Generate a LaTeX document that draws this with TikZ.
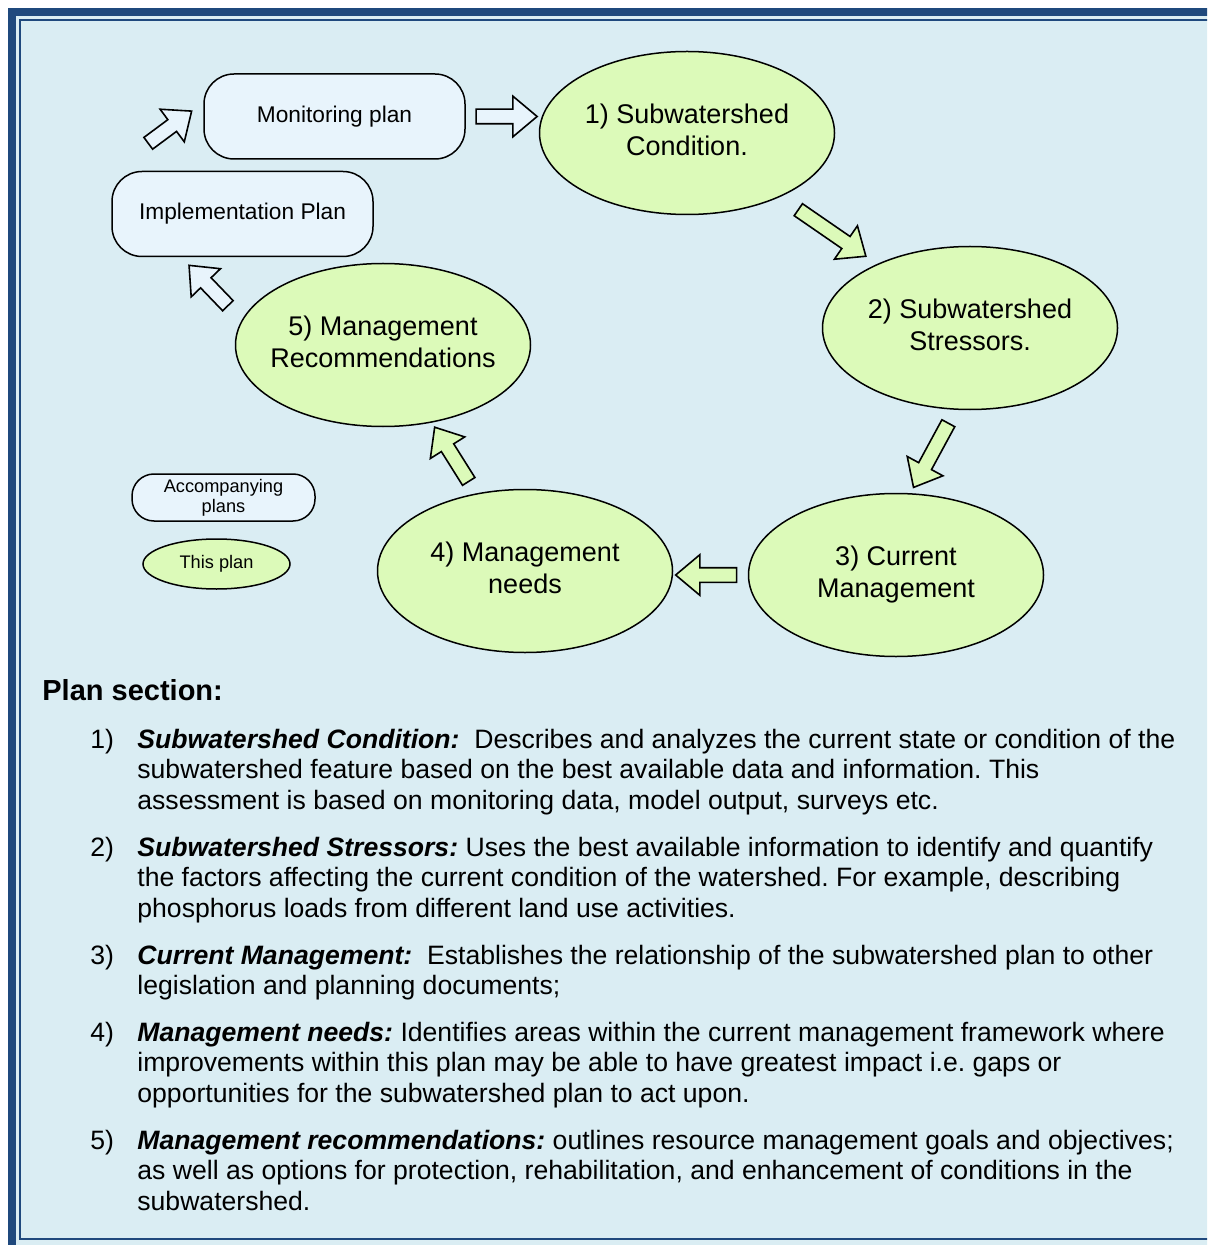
\documentclass[tikz,border=0pt]{standalone}
\usepackage{fontspec}
\setmainfont{Liberation Sans}
\usepackage{tikz}
\usetikzlibrary{calc,shapes.geometric,shapes.arrows}
\definecolor{framecol}{RGB}{31,73,125}
\definecolor{bgcol}{RGB}{218,237,243}
\definecolor{plangreen}{RGB}{220,250,185}
\definecolor{boxcol}{RGB}{232,244,252}
\frenchspacing
\newcommand{\ovaltext}[1]{\makebox[0pt]{\begin{tabular}{@{}c@{}}#1\end{tabular}}}
\newcommand{\itemlines}[1]{\begin{tabular}[t]{@{}l@{}}#1\end{tabular}}
\tikzset{
main node/.style={ellipse,draw,line width=0.75pt,fill=plangreen,minimum width=147.5pt,minimum height=81.5pt,inner sep=0pt,font=\fontsize{13.5}{16}\selectfont},
plan box/.style={rectangle,rounded corners=15pt,draw,line width=0.75pt,fill=boxcol,minimum width=130.5pt,minimum height=42.5pt,inner sep=0pt,align=center,font=\fontsize{11.35}{13}\selectfont},
freccia/.style={single arrow,draw,line width=0.8pt,inner xsep=0pt,inner ysep=3.25pt,single arrow head extend=6.5pt,single arrow tip angle=80,sloped,allow upside down,fill=plangreen},
item text/.style={anchor=base west,inner sep=0pt,font=\fontsize{13.3}{15.25}\selectfont}}

\begin{document}
\begin{tikzpicture}[x=0.5pt,y=-0.5pt]

\useasboundingbox (0,0) rectangle (1207,1245);
\clip (0,0) rectangle (1207,1245);

% frame
\fill[bgcol] (8,8) rectangle (1240,1280);
\draw[framecol,line width=4pt] (12,12) rectangle (1236,1276);
\draw[framecol,line width=1.3pt] (20,20) rectangle (1220,1239);

% cycle
\node[main node] (1) at (687,133) {\ovaltext{1) Subwatershed\\Condition.}};
\node[main node] (2) at (970,328) {\ovaltext{2) Subwatershed\\Stressors.}};
\node[main node] (3) at (896,575) {\ovaltext{3) Current\\Management}};
\node[main node] (4) at (525,571) {\ovaltext{4) Management\\needs}};
\node[main node] (5) at (383,345) {\ovaltext{5) Management\\Recommendations}};

\node[plan box] (mon) at (334.5,116.5) {Monitoring plan};
\node[plan box] (impl) at (242.5,214) {Implementation Plan};

% legend
\node[plan box,rounded corners=11pt,minimum width=91.5pt,minimum height=23.5pt,font=\fontsize{9.1}{10}\selectfont] (acc) at (223.5,497.5) {Accompanying\\plans};
\node[main node,minimum width=73.5pt,minimum height=25pt,font=\fontsize{9.1}{10}\selectfont] (this) at (216.5,564) {This plan};

% arrows
\path (impl.north west) -- node[freccia,pos=0.6,fill=boxcol,minimum height=27pt] {} ([yshift=7pt]mon.west);
\path (mon.east) -- node[freccia,fill=boxcol,minimum height=30.5pt] {} (mon.east -| 1.west);
\path (1) -- node[freccia,minimum height=41pt] {} (2);
\path (2.-100) -- node[freccia,minimum height=36.5pt] {} (3.80);
\path (3.west) -- node[freccia,minimum height=30.5pt] {} (3.west -| 4.east);
\path (4) -- node[freccia,minimum height=32pt] {} (5);
\path (5.170) -- node[freccia,fill=boxcol,minimum height=28pt] {} ([xshift=35pt]impl.south west);

% plan sections
\node[item text,font=\fontsize{14.5}{17}\selectfont\bfseries] (head) at (42,700) {Plan section:};

\node[item text] (n1) at (90,748) {1)};
\node[item text] (t1) at (137,748) {\itemlines{\textbf{\textit{Subwatershed Condition:}}\ \ Describes and analyzes the current state or condition of the\\subwatershed feature based on the best available data and information. This\\assessment is based on monitoring data, model output, surveys etc.}};

\node[item text] (n2) at (90,856) {2)};
\node[item text] (t2) at (137,856) {\itemlines{\textbf{\textit{Subwatershed Stressors:}} Uses the best available information to identify and quantify\\the factors affecting the current condition of the watershed. For example, describing\\phosphorus loads from different land use activities.}};

\node[item text] (n3) at (90,964) {3)};
\node[item text] (t3) at (137,964) {\itemlines{\textbf{\textit{Current Management:}}\ \ Establishes the relationship of the subwatershed plan to other\\legislation and planning documents;}};

\node[item text] (n4) at (90,1041) {4)};
\node[item text] (t4) at (137,1041) {\itemlines{\textbf{\textit{Management needs:}} Identifies areas within the current management framework where\\improvements within this plan may be able to have greatest impact i.e. gaps or\\opportunities for the subwatershed plan to act upon.}};

\node[item text] (n5) at (90,1149) {5)};
\node[item text] (t5) at (137,1149) {\itemlines{\textbf{\textit{Management recommendations:}} outlines resource management goals and objectives;\\as well as options for protection, rehabilitation, and enhancement of conditions in the\\subwatershed.}};

\end{tikzpicture}
\end{document}
